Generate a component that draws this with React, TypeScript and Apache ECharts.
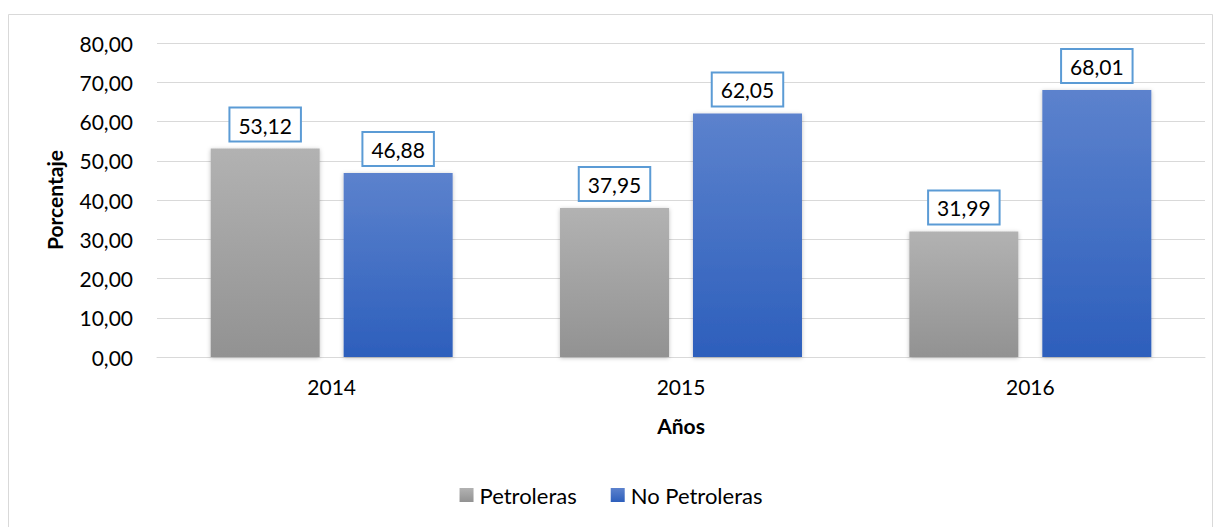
import React, { useEffect, useRef } from "react";
import * as echarts from "echarts";

const categories = ["2014", "2015", "2016"];
const petroleras = [53.12, 37.95, 31.99];
const noPetroleras = [46.88, 62.05, 68.01];
const seriesNames = ["Petroleras", "No Petroleras"];

const fmt = (v: number) => v.toFixed(2).replace(".", ",");
const FONT = "Lato, 'Open Sans', sans-serif";

export default function App() {
  const ref = useRef<HTMLDivElement>(null);
  useEffect(() => {
    if (!ref.current) return;
    const chart = echarts.init(ref.current, null, { renderer: "svg" });
    const labelStyle = {
      show: true,
      position: "top",
      distance: 8,
      formatter: (p: any) => fmt(p.value),
      backgroundColor: "#ffffff",
      borderColor: "#5b9bd5",
      borderWidth: 2,
      padding: [6, 8, 5, 8],
      fontSize: 21,
      color: "#000",
      fontFamily: FONT,
    };
    const grayGrad = new echarts.graphic.LinearGradient(0, 0, 0, 1, [
      { offset: 0, color: "#b2b2b2" },
      { offset: 1, color: "#929292" },
    ]);
    const blueGrad = new echarts.graphic.LinearGradient(0, 0, 0, 1, [
      { offset: 0, color: "#5c82cd" },
      { offset: 1, color: "#2d5fbc" },
    ]);
    chart.setOption({
      animation: false,
      textStyle: { fontFamily: FONT },
      graphic: [
        {
          type: "rect",
          shape: { x: 8.5, y: 14.5, width: 1204, height: 530 },
          style: { fill: "none", stroke: "#d9d9d9", lineWidth: 1 },
          silent: true,
        },
      ],
      grid: { left: 157, right: 17, top: 43, bottom: 170 },
      legend: {
        data: seriesNames,
        top: 479,
        left: "center",
        itemWidth: 14,
        itemHeight: 14,
        itemGap: 34,
        textStyle: { fontSize: 22, color: "#000", fontFamily: FONT, padding: [0, 0, 0, 1] },
        icon: "rect",
      },
      xAxis: {
        type: "category",
        data: categories,
        name: "Años",
        nameLocation: "middle",
        nameGap: 58,
        nameTextStyle: { fontSize: 21, fontWeight: "bold", color: "#000", fontFamily: FONT },
        axisLine: { lineStyle: { color: "#d9d9d9" } },
        axisTick: { show: false },
        axisLabel: { fontSize: 21, color: "#000", margin: 19, fontFamily: FONT },
      },
      yAxis: {
        type: "value",
        min: 0,
        max: 80,
        interval: 10,
        name: "Porcentaje",
        nameLocation: "middle",
        nameGap: 92,
        nameTextStyle: { fontSize: 21, fontWeight: "bold", color: "#000", fontFamily: FONT },
        axisLine: { show: false },
        axisTick: { show: false },
        splitLine: { lineStyle: { color: "#d9d9d9" } },
        axisLabel: { fontSize: 21, color: "#000", margin: 24, formatter: (v: number) => fmt(v), fontFamily: FONT },
      },
      series: [
        {
          name: seriesNames[0],
          type: "bar",
          data: petroleras,
          barWidth: 109,
          barGap: "22%",
          itemStyle: { color: grayGrad, shadowBlur: 4, shadowColor: "rgba(0,0,0,0.25)", shadowOffsetY: 1 },
          label: labelStyle,
        },
        {
          name: seriesNames[1],
          type: "bar",
          data: noPetroleras,
          barWidth: 109,
          itemStyle: { color: blueGrad, shadowBlur: 4, shadowColor: "rgba(0,0,0,0.25)", shadowOffsetY: 1 },
          label: labelStyle,
        },
      ],
    });
    return () => chart.dispose();
  }, []);
  return (
    <div
      ref={ref}
      style={{ position: "fixed", left: 0, top: 0, width: 1222, height: 527, background: "#fff" }}
    />
  );
}
